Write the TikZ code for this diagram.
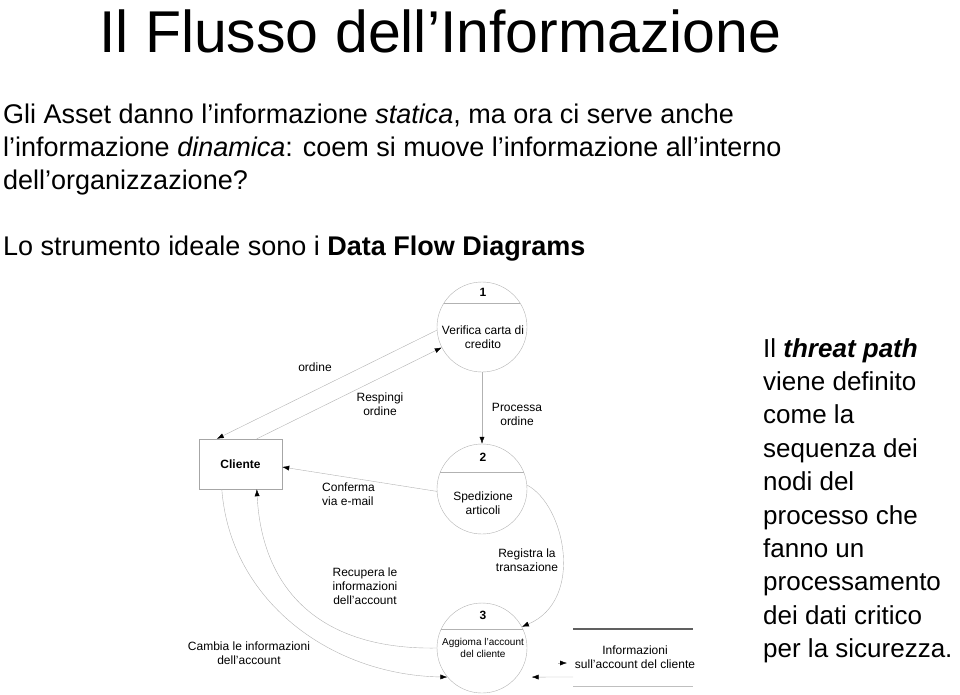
\documentclass[tikz,border=0pt]{standalone}
\usepackage{fontspec}
\setmainfont{Liberation Sans}
\usetikzlibrary{arrows.meta}

\tikzset{
  flow/.style={draw=gray!60, thin, -{Latex[length=7pt,width=5pt,color=black]}},
  proc/.style={circle, draw=gray!60, thin, minimum size=90pt, inner sep=0pt},
  lab/.style={align=center, inner sep=0pt, font=\fontsize{12}{14}\selectfont},
  body/.style={anchor=base west, inner sep=0pt, font=\fontsize{27}{33}\selectfont},
}

\begin{document}
\begin{tikzpicture}[x=1pt, y=-1pt]
    \useasboundingbox (0,0) rectangle (960,694);

    % titolo e testo
    \node[anchor=base west, inner sep=0pt, font=\fontsize{59}{59}\selectfont] (title) at (99,52) {Il Flusso dell'Informazione};
    \node[body] (l1) at (3,123) {Gli Asset danno l'informazione \textit{statica}, ma ora ci serve anche};
    \node[body] (l2) at (3,156) {l'informazione \textit{dinamica}: coem si muove l'informazione all'interno};
    \node[body] (l3) at (3,189) {dell'organizzazione?};
    \node[body] (l4) at (3,255) {Lo strumento ideale sono i \textbf{Data Flow Diagrams}};

    \foreach \t [count=\i from 0] in {{Il \textbf{\textit{threat path}}}, viene definito, come la,
        sequenza dei, nodi del, processo che, fanno un, processamento, dei dati critico, per la sicurezza.}
    \node[body, font=\fontsize{26}{33}\selectfont] (r\i) at (763, 357+33.4*\i) {\t};

    % processi
    \foreach \n/\y/\l/\r in {1/327/148/32, 2/489/158/22, 3/648/155/25}
    {
      \node[proc] (p\n) at (482,\y) {};
      \draw[gray!60] (p\n.\l) -- (p\n.\r);
    }
    \node[lab, font=\bfseries\fontsize{12}{14}\selectfont] (n1) at (483,292) {1};
    \node[lab, font=\bfseries\fontsize{12}{14}\selectfont] (n2) at (483,457) {2};
    \node[lab, font=\bfseries\fontsize{12}{14}\selectfont] (n3) at (483,615) {3};
    \node[lab] (t1) at (483,337) {Verifica carta di\\credito};
    \node[lab] (t2) at (483,503) {Spedizione\\articoli};
    \node[lab, font=\fontsize{10}{12}\selectfont] (t3) at (483,648) {Aggioma l'account\\del cliente};

    % entita' esterna e archivio
    \node[draw=gray!70, thin, minimum width=83pt, minimum height=50pt, font=\bfseries\fontsize{12}{14}\selectfont] (cl) at (240.5,464) {Cliente};
    \draw[line width=1.5pt, gray!75!black] (573,629) -- (693,629);
    \draw[gray!50] (573,686) -- (693,686);
    \node[lab] (ds) at (635,657) {Informazioni\\sull'account del cliente};

    % flussi
    \draw[flow] (p1.184) -- ([xshift=18pt]cl.north west);
    \draw[flow] ([xshift=58pt]cl.north west) -- (p1.207);
    \draw[flow] (p1.south) -- (p2.north);
    \draw[flow] (p2.183) -- ([yshift=-3pt]cl.east);
    \draw[flow] (p2.5) .. controls (565,505) and (585,600) .. (p3.28);
    \draw[flow] (p3.180) .. controls (320,650) and (262,590) .. ([xshift=58pt]cl.south west);
    \draw[flow] ([xshift=23pt]cl.south west) .. controls (230,600) and (330,675) .. (p3.220);
    \coordinate (dsin) at (573,677);
    \draw[flow] (dsin) -- ([xshift=15pt]p3.-40);
    \coordinate (dsout) at (558,663);
    \draw[flow] (dsout) -- ++(9,0);

    \node[lab] (f1) at (315,367) {ordine};
    \node[lab] (f2) at (380,404) {Respingi\\ordine};
    \node[lab] (f3) at (517,414) {Processa\\ordine};
    \node[lab, align=left, anchor=west] (f4) at (322,494) {Conferma\\via e-mail};
    \node[lab] (f5) at (527,560) {Registra la\\transazione};
    \node[lab] (f6) at (365,586) {Recupera le\\informazioni\\dell'account};
    \node[lab] (f7) at (249,653) {Cambia le informazioni\\dell'account};
\end{tikzpicture}
\end{document}
